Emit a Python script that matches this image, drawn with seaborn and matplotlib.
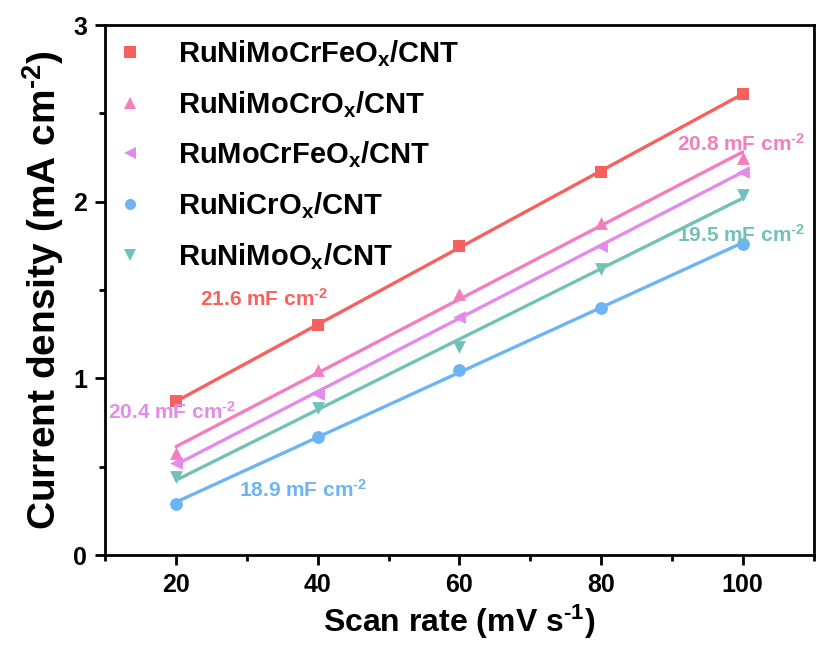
import numpy as np
import pandas as pd
import matplotlib
matplotlib.use("Agg")
import matplotlib.pyplot as plt
from matplotlib.ticker import MultipleLocator
import seaborn as sns

scan_rate = [20, 40, 60, 80, 100]
names = ["RuNiMoCrFeO$_\\mathregular{x}$/CNT", "RuNiMoCrO$_\\mathregular{x}$/CNT",
         "RuMoCrFeO$_\\mathregular{x}$/CNT", "RuNiCrO$_\\mathregular{x}$/CNT",
         "RuNiMoO$_\\mathregular{x}$/CNT"]
ruNiMoCrFe = [0.87, 1.30, 1.75, 2.17, 2.61]
ruNiMoCr = [0.58, 1.05, 1.48, 1.88, 2.25]
ruMoCrFe = [0.52, 0.91, 1.35, 1.75, 2.17]
ruNiCr = [0.29, 0.67, 1.05, 1.40, 1.76]
ruNiMo = [0.44, 0.83, 1.18, 1.62, 2.04]
cdl_labels = ["21.6 mF cm$^{\\text{-2}}$", "20.8 mF cm$^{\\text{-2}}$",
              "20.4 mF cm$^{\\text{-2}}$", "18.9 mF cm$^{\\text{-2}}$",
              "19.5 mF cm$^{\\text{-2}}$"]

series = [ruNiMoCrFe, ruNiMoCr, ruMoCrFe, ruNiCr, ruNiMo]
colors = ["#F8605E", "#F47DBE", "#E48AEB", "#6DB4F5", "#72C1B9"]
markers = ["s", "^", "<", "o", "v"]
label_pos = [(32.5, 1.45), (99.8, 2.33), (19.4, 0.81), (38, 0.37), (99.8, 1.81)]

sns.set_theme(style="ticks")
plt.rcParams["font.family"] = ["Liberation Sans", "DejaVu Sans"]
plt.rcParams["mathtext.fontset"] = "custom"
plt.rcParams["mathtext.rm"] = "Liberation Sans:bold"
plt.rcParams["mathtext.it"] = "Liberation Sans:bold"
plt.rcParams["mathtext.bf"] = "Liberation Sans:bold"
plt.rcParams["axes.unicode_minus"] = False
plt.rcParams["text.color"] = "black"
plt.rcParams["axes.labelcolor"] = "black"
plt.rcParams["xtick.color"] = "black"
plt.rcParams["ytick.color"] = "black"

fig = plt.figure(figsize=(8.16, 6.6), dpi=100)
ax = fig.add_axes([0.129, 0.159, 0.868, 0.803])

handles = []
for name, vals, c, m in zip(names, series, colors, markers):
    df = pd.DataFrame({"x": scan_rate, "y": vals})
    sns.regplot(data=df, x="x", y="y", ax=ax, ci=None, color=c, marker=m,
                scatter_kws={"s": 85, "linewidths": 0, "alpha": 1, "zorder": 3},
                line_kws={"lw": 2.4, "zorder": 2})
    h, = ax.plot([], [], linestyle="none", marker=m, color=c, markersize=8,
                 markeredgewidth=0, label=name)
    handles.append(h)

for txt, (x, y), c in zip(cdl_labels, label_pos, colors):
    ax.text(x, y, txt, color=c, fontsize=15, fontweight="bold", ha="center", va="center")

ax.set_xlim(10, 110)
ax.set_ylim(0, 3)
ax.xaxis.set_major_locator(MultipleLocator(20))
ax.xaxis.set_minor_locator(MultipleLocator(10))
ax.yaxis.set_major_locator(MultipleLocator(1))
ax.yaxis.set_minor_locator(MultipleLocator(0.5))
ax.set_xticks([20, 40, 60, 80, 100])
ax.tick_params(axis="both", which="major", direction="out", length=7, width=2,
               labelsize=18, pad=6, colors="black")
ax.tick_params(axis="both", which="minor", direction="out", length=4, width=2, colors="black")
for lab in ax.get_xticklabels() + ax.get_yticklabels():
    lab.set_fontweight("bold")
for s in ax.spines.values():
    s.set_linewidth(2)
    s.set_color("black")

ax.set_xlabel("Scan rate (mV s$^{\\text{-1}}$)", fontsize=23, fontweight="bold", labelpad=4)
ax.set_ylabel("Current density (mA cm$^{\\text{-2}}$)", fontsize=28, fontweight="bold", labelpad=5)

ax.legend(handles=handles, loc="upper left", frameon=False,
          prop={"weight": "bold", "size": 21}, handletextpad=1.25, labelspacing=0.68,
          borderaxespad=0.0, borderpad=0.45, handlelength=0.8, bbox_to_anchor=(0.0, 1.0))

fig.savefig("out.png", dpi=100)
